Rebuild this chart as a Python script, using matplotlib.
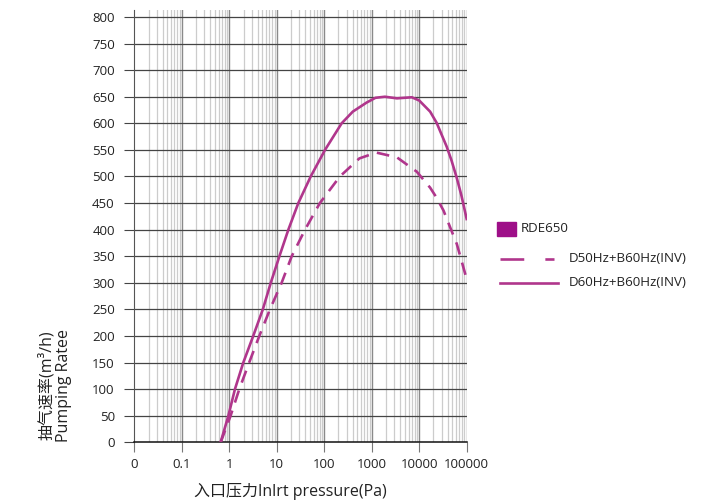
import matplotlib
matplotlib.use('Agg')
import matplotlib.pyplot as plt
from matplotlib.lines import Line2D
from matplotlib.patches import Rectangle

plt.rcParams['font.family'] = ['Open Sans', 'Noto Sans CJK SC', 'DejaVu Sans']

# curve data
p60 = [0.66, 0.96, 1.32, 1.98, 3.2, 5.1, 7.5, 11.4, 17.6, 28.5, 52, 104,
       233, 400, 780, 1200, 1900, 3400, 7000, 10000, 17000, 23300, 38000,
       48000, 62000, 77600, 100000]
s60 = [0, 50, 100, 150, 200, 250, 300, 350, 400, 450, 500, 550,
       600, 622, 639, 648, 650, 647, 649, 643, 622, 601, 556,
       530, 497, 464, 420]

p50 = [0.66, 1.07, 1.63, 2.63, 4.3, 7.2, 12.7, 20.7, 39.5, 81, 214,
       550, 1250, 3400, 8900, 17000, 23300, 32500, 44600, 62000, 77600,
       100000]
s50 = [0, 50, 100, 150, 200, 250, 300, 350, 400, 450, 500,
       534, 545, 536, 509, 479, 460, 436, 405, 373, 342, 307]

xticks = [0.01, 0.1, 1, 10, 100, 1000, 10000, 100000]
xlabels = ['0', '0.1', '1', '10', '100', '1000', '10000', '100000']
yticks = list(range(0, 801, 50))

legend_names = ['RDE650', 'D50Hz+B60Hz(INV)', 'D60Hz+B60Hz(INV)']

line_color = '#b0368c'
box_color = '#9e0f88'

fig = plt.figure(figsize=(7.26, 5.04), dpi=100)
ax = fig.add_axes([0.1849, 0.1224, 0.6428 - 0.1849, 0.98 - 0.1224])

ax.set_xscale('log')
ax.set_xlim(0.01, 100000)
ax.set_ylim(0, 813)

# grid
for d in range(-2, 5):
    for k in range(2, 10):
        ax.axvline(k * 10.0 ** d, color='#cccccc', lw=0.9, zorder=1)
for x in xticks[1:]:
    ax.axvline(x, color='#8a8a8a', lw=1.0, zorder=1)
for y in yticks[1:]:
    ax.axhline(y, color='#444444', lw=0.9, zorder=2)

ax.plot(p50, s50, color=line_color, lw=1.9, dashes=(4.8, 3.2), zorder=3)
ax.plot(p60, s60, color=line_color, lw=1.9, zorder=3)

for s in ['top', 'right']:
    ax.spines[s].set_visible(False)
ax.spines['left'].set_color('#555555')
ax.spines['bottom'].set_color('#111111')
ax.spines['bottom'].set_linewidth(1.1)

ax.set_xticks(xticks)
ax.set_xticklabels(xlabels)
ax.xaxis.set_minor_locator(matplotlib.ticker.NullLocator())
ax.set_yticks(yticks)
ax.tick_params(axis='x', length=7, color='#777777', pad=4, labelsize=9.5,
               labelcolor='#222222')
ax.tick_params(axis='y', length=7, color='#444444', pad=7, labelsize=9.5,
               labelcolor='#222222')

fig.text(0.40, 0.025, '入口压力Inlrt pressure(Pa)', ha='center', va='center',
         fontsize=11.5, color='#222222')
fig.text(0.065, 0.235, '抽气速率(m³/h)', rotation=90, ha='center', va='center',
         fontsize=11.5, color='#222222')
fig.text(0.088, 0.235, 'Pumping Ratee', rotation=90, ha='center', va='center',
         fontsize=11.5, color='#222222')

# legend
fig.patches.append(Rectangle((497 / 726, 1 - 236 / 504), 19 / 726, 14 / 504,
                             transform=fig.transFigure, color=box_color))
fig.text(521 / 726, 1 - 229 / 504, legend_names[0], va='center', fontsize=9.6,
         color='#222222')
fig.lines.append(Line2D([500 / 726, 554 / 726], [1 - 259 / 504] * 2,
                        transform=fig.transFigure, color=line_color, lw=1.9,
                        dashes=(9, 8)))
fig.text(569 / 726, 1 - 259 / 504, legend_names[1], va='center', fontsize=9.6,
         color='#222222')
fig.lines.append(Line2D([500 / 726, 558 / 726], [1 - 283 / 504] * 2,
                        transform=fig.transFigure, color=line_color, lw=1.9))
fig.text(569 / 726, 1 - 283 / 504, legend_names[2], va='center', fontsize=9.6,
         color='#222222')

fig.savefig('out.png', dpi=100)
